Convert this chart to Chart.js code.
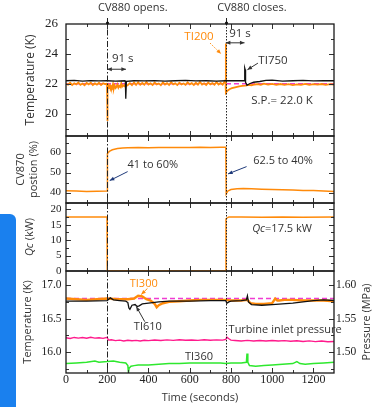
<!DOCTYPE html>
<html>
<head>
<meta charset="utf-8">
<script src="https://cdn.jsdelivr.net/npm/chart.js@4"></script>
<style>
  body { margin: 0; background: #fff; }
  #wrap { position: relative; width: 380px; height: 407px; overflow: hidden; }
  #wrap canvas { position: absolute; left: 0; top: 0; }
  #tab { position: absolute; left: 0; top: 214px; width: 16px; height: 193px; background: #1a80ee; border-top-right-radius: 6px; }
</style>
</head>
<body>
<div id="wrap">
  <div id="tab"></div>
  <canvas id="p4" width="380" height="407"></canvas>
  <canvas id="p3" width="380" height="407"></canvas>
  <canvas id="p2" width="380" height="407"></canvas>
  <canvas id="p1" width="380" height="407"></canvas>
</div>
<script>
// ---- data (time in seconds) ----
const timeTicks = [0, 200, 400, 600, 800, 1000, 1200];
const eventTimes = [200, 775];   // CV880 opens / closes

// panel 1: temperatures (K)
const p1Ticks = [20, 22, 24, 26];
const ti200Time = [0,10,20,30,40,50,60,70,80,90,100,110,120,130,140,150,160,170,180,190,
  196,199,200,201,203,206,209,213,216,220,223,228,232,236,241,245,249,254,258,263,268,272,277,283,288,294,300,
  310,320,330,340,350,360,370,380,390,400,410,420,430,440,450,460,470,480,490,500,
  510,520,530,540,550,560,570,580,590,600,610,620,630,640,650,660,670,680,690,700,
  710,720,730,740,750,760,770,
  774,775,776,778,782,788,795,805,815,825,840,855,870,885,900,915,930,945,960,980,
  1000,1020,1040,1060,1080,1100,1120,1140,1160,1180,1200,1220,1240,1260,1280,1300];
const ti200Temp = [22.00,21.94,22.06,21.92,22.03,21.95,22.08,21.93,22.01,21.90,22.05,21.96,22.07,21.92,22.02,21.94,22.06,21.91,22.03,21.97,
  22.00,21.98,19.50,21.72,21.62,21.85,21.70,21.96,21.66,21.80,21.74,21.98,21.68,21.88,21.72,21.79,21.95,21.74,21.86,21.78,22.02,21.80,21.90,21.84,21.98,21.86,21.92,
  22.04,21.90,22.08,21.92,22.10,21.93,22.05,21.93,22.12,21.95,22.03,21.92,22.08,21.96,22.02,21.90,22.09,21.95,22.04,21.92,
  22.10,21.96,22.03,21.91,22.07,21.95,22.02,21.93,22.09,21.96,22.04,21.92,22.06,21.94,22.12,21.95,22.03,21.92,22.08,21.96,
  22.04,21.93,22.10,21.95,22.05,21.94,22.16,
  22.02,24.70,21.40,21.45,21.52,21.58,21.65,21.70,21.74,21.78,21.82,21.86,21.88,21.92,21.90,21.95,21.97,21.92,22.00,21.94,
  21.99,21.93,21.98,21.92,21.97,21.91,21.96,21.93,21.99,21.92,21.97,21.94,21.98,21.92,21.97,21.95];
const ti750Time = [0,40,80,120,160,200,240,286,288,289,291,293,330,380,430,480,530,580,630,680,
  730,775,820,866,867,869,871,878,890,910,940,970,1000,1050,1100,1150,1200,1250,1300];
const ti750Temp = [22.20,22.22,22.18,22.21,22.19,22.20,22.18,22.20,22.15,21.00,21.05,22.16,22.20,22.19,22.21,22.18,22.20,22.22,22.19,22.20,
  22.18,22.20,22.20,22.20,23.05,22.95,22.10,21.90,22.00,22.10,22.15,22.22,22.24,22.18,22.20,22.22,22.19,22.21,22.20];
const setPoint1 = 22.0;

// panel 2: CV870 position (%)
const p2Ticks = [40, 50, 60];
const cv870Time = [0,50,100,150,199,200,202,210,225,250,275,300,350,400,450,500,550,600,650,700,
  750,774,775,777,785,800,830,860,900,950,1000,1050,1100,1150,1200,1250,1300];
const cv870Pos = [40.9,40.8,40.6,40.7,40.8,41.0,59.5,60.6,61.4,62.0,62.3,62.4,62.5,62.4,62.6,62.5,62.6,62.5,62.7,62.6,
  62.7,62.7,62.5,39.3,40.8,41.5,41.9,42.0,41.9,41.7,41.6,41.4,41.3,41.1,41.0,40.8,40.6];

// panel 3: Qc (kW)
const p3Ticks = [0, 5, 10, 15, 20];
const qcTime = [0,100,199,200,775,776,778,790,850,950,1050,1150,1300];
const qcPower = [17.5,17.5,17.5,0,0,16.8,17.0,17.5,17.5,17.4,17.5,17.4,17.5];

// panel 4: temperatures (K) and turbine inlet pressure (MPa)
const p4Ticks = [16.0, 16.5, 17.0];
const presTicks = [1.50, 1.55, 1.60];
const ti300Time = [0,50,100,150,200,250,300,330,350,370,390,410,430,440,450,470,500,550,600,650,
  700,775,800,850,880,895,920,960,1000,1015,1025,1035,1060,1100,1150,1200,1250,1300];
const ti300Temp = [16.80,16.79,16.78,16.79,16.80,16.79,16.79,16.80,16.84,16.83,16.79,16.77,16.72,16.67,16.70,16.73,16.75,16.76,16.77,16.78,
  16.78,16.78,16.77,16.77,16.78,16.73,16.72,16.72,16.73,16.80,16.77,16.77,16.78,16.78,16.77,16.77,16.77,16.76];
const ti610Time = [0,100,200,215,230,260,290,300,305,310,320,335,345,355,370,400,450,500,600,700,
  775,780,790,800,850,875,880,885,900,950,1000,1050,1100,1150,1200,1250,1300];
const ti610Temp = [16.76,16.76,16.77,16.81,16.78,16.77,16.76,16.74,16.66,16.64,16.70,16.71,16.68,16.69,16.72,16.73,16.75,16.76,16.76,16.77,
  16.77,16.73,16.75,16.76,16.77,16.78,16.84,16.75,16.71,16.70,16.71,16.72,16.73,16.75,16.77,16.78,16.77];
const presTime = [0,20,40,60,80,100,120,140,160,180,200,
  205,220,240,260,280,300,320,340,360,380,400,
  430,460,490,520,550,580,610,640,670,700,730,760,
  775,780,790,800,820,850,880,910,940,970,
  1000,1030,1060,1090,1120,1150,1180,1210,1240,1270,1300];
const presMPa = [1.5215,1.5205,1.5220,1.5210,1.5218,1.5208,1.5222,1.5210,1.5216,1.5206,1.5220,
  1.5180,1.5185,1.5172,1.5180,1.5168,1.5178,1.5170,1.5176,1.5166,1.5178,1.5172,
  1.5182,1.5174,1.5184,1.5176,1.5186,1.5178,1.5182,1.5176,1.5186,1.5178,1.5184,1.5180,
  1.5190,1.5225,1.5200,1.5180,1.5175,1.5168,1.5176,1.5168,1.5174,1.5166,
  1.5175,1.5166,1.5172,1.5164,1.5170,1.5160,1.5168,1.5158,1.5166,1.5156,1.5160];
const ti360Time = [0,50,100,140,160,200,230,260,290,300,303,306,315,330,350,400,450,500,550,600,
  650,700,750,775,800,850,875,878,882,890,920,960,1000,1050,1100,1120,1135,1160,1200,1250,1300];
const ti360Temp = [15.83,15.84,15.85,15.87,15.85,15.86,15.87,15.85,15.84,15.80,15.69,15.76,15.79,15.80,15.81,15.81,15.82,15.83,15.83,15.84,
  15.84,15.84,15.84,15.83,15.84,15.84,15.85,15.98,15.85,15.80,15.79,15.80,15.81,15.82,15.83,15.86,15.83,15.82,15.83,15.84,15.85];
const setPoint4 = 16.80;

// ---- styling ----
const SANS = "'Open Sans', 'Noto Sans', sans-serif";
const SERIF = "'Liberation Serif', 'DejaVu Serif', serif";
const ORANGE = '#ff8a0a';
const MAGENTA = '#f03cd2';
const INK = '#333';

const pts = (t, v) => t.map((x, i) => ({ x, y: v[i] }));

// frame, inward ticks, event lines and text notes
const deco = {
  id: 'deco',
  afterDatasetsDraw(chart, _args, o) {
    const { ctx, chartArea: a } = chart;
    const xs = chart.scales.x, ys = chart.scales.y;
    ctx.save();

    eventTimes.forEach((t, i) => {
      const px = Math.round(xs.getPixelForValue(t)) + 0.5;
      ctx.strokeStyle = '#222';
      ctx.lineWidth = 1;
      ctx.setLineDash(i === 0 ? [6, 2, 1.5, 2] : [1.5, 1.5]);
      ctx.beginPath();
      ctx.moveTo(px, a.top - (o.lead || 0));
      ctx.lineTo(px, a.bottom);
      ctx.stroke();
      if (o.lead) {
        ctx.setLineDash([]);
        ctx.beginPath();
        ctx.moveTo(px, a.top - o.lead);
        ctx.lineTo(px, a.top);
        ctx.stroke();
        ctx.fillStyle = '#111';
        ctx.beginPath();
        ctx.arc(px, a.top - 1, 1.6, 0, Math.PI * 2);
        ctx.fill();
      }
    });
    ctx.setLineDash([]);

    // inward ticks
    ctx.strokeStyle = '#333';
    ctx.lineWidth = 1;
    for (let t = 100; t < 1300; t += 100) {
      const px = Math.round(xs.getPixelForValue(t)) + 0.5;
      const len = t % 200 === 0 ? 5 : 3;
      ctx.beginPath();
      ctx.moveTo(px, a.top); ctx.lineTo(px, a.top + len);
      ctx.moveTo(px, a.bottom); ctx.lineTo(px, a.bottom - len);
      ctx.stroke();
    }
    const major = o.yTicks;
    const step = major[1] - major[0];
    for (let v = major[0] - step / 2; v <= ys.max; v += step / 2) {
      if (v <= ys.min || v >= ys.max) continue;
      const py = Math.round(ys.getPixelForValue(v)) + 0.5;
      const isMajor = major.some(m => Math.abs(m - v) < 1e-6);
      const len = isMajor ? 5 : 3;
      ctx.beginPath();
      ctx.moveTo(a.left, py); ctx.lineTo(a.left + len, py);
      ctx.moveTo(a.right, py); ctx.lineTo(a.right - len, py);
      ctx.stroke();
    }

    // frame
    ctx.lineWidth = 1.3;
    ctx.strokeStyle = '#1a1a1a';
    ctx.strokeRect(a.left, a.top, a.width, a.height);

    // arrows
    (o.arrows || []).forEach(ar => {
      const x0 = xs.getPixelForValue(ar.from[0]), y0 = ys.getPixelForValue(ar.from[1]);
      const x1 = xs.getPixelForValue(ar.to[0]), y1 = ys.getPixelForValue(ar.to[1]);
      ctx.strokeStyle = ar.color || INK;
      ctx.fillStyle = ar.color || INK;
      ctx.lineWidth = 1;
      ctx.setLineDash(ar.dash || []);
      ctx.beginPath(); ctx.moveTo(x0, y0); ctx.lineTo(x1, y1); ctx.stroke();
      ctx.setLineDash([]);
      const head = (hx, hy, ang) => {
        ctx.beginPath();
        ctx.moveTo(hx, hy);
        ctx.lineTo(hx - 5 * Math.cos(ang - 0.4), hy - 5 * Math.sin(ang - 0.4));
        ctx.lineTo(hx - 5 * Math.cos(ang + 0.4), hy - 5 * Math.sin(ang + 0.4));
        ctx.closePath();
        ctx.fill();
      };
      const ang = Math.atan2(y1 - y0, x1 - x0);
      head(x1, y1, ang);
      if (ar.both) head(x0, y0, ang + Math.PI);
    });

    // text notes
    ctx.textBaseline = 'middle';
    (o.notes || []).forEach(n => {
      const parts = n.parts || [{ text: n.text }];
      const size = n.size || 11;
      const fonts = parts.map(p => (p.italic ? 'italic ' : '') + size + 'px ' + SANS);
      let w = 0;
      parts.forEach((p, i) => { ctx.font = fonts[i]; w += ctx.measureText(p.text).width; });
      let x = xs.getPixelForValue(n.t) - w / 2;
      const y = ys.getPixelForValue(n.v);
      ctx.fillStyle = n.color || INK;
      ctx.textAlign = 'left';
      parts.forEach((p, i) => { ctx.font = fonts[i]; ctx.fillText(p.text, x, y); x += ctx.measureText(p.text).width; });
    });

    // rotated side titles
    (o.sideTitles || []).forEach(st => {
      const size = st.size || 11;
      const fonts = st.parts.map(p => (p.italic ? 'italic ' : '') + size + 'px ' + SANS);
      let w = 0;
      st.parts.forEach((p, i) => { ctx.font = fonts[i]; w += ctx.measureText(p.text).width; });
      ctx.save();
      ctx.translate(st.x, (a.top + a.bottom) / 2);
      ctx.rotate(-Math.PI / 2);
      ctx.fillStyle = INK;
      ctx.textAlign = 'left';
      let x = -w / 2;
      st.parts.forEach((p, i) => { ctx.font = fonts[i]; ctx.fillText(p.text, x, 0); x += ctx.measureText(p.text).width; });
      ctx.restore();
    });
    ctx.restore();
  }
};

function xAxis(show) {
  const axis = {
    type: 'linear', min: 0, max: 1300, display: show,
    grid: { display: false, drawTicks: false }, border: { display: false },
    afterBuildTicks: s => { s.ticks = timeTicks.map(value => ({ value })); },
    ticks: { font: { family: SERIF, size: 12, lineHeight: 1 }, color: '#222', padding: 1, maxRotation: 0, autoSkip: false, callback: v => String(v) },
    title: { display: show, text: 'Time (seconds)', font: { family: SANS, size: 11 }, color: INK, padding: { top: 0, bottom: 3 } }
  };
  if (show) axis.afterFit = s => { s.height = 34; };
  return axis;
}

function yAxis(min, max, ticks, digits, size, pad, title, position) {
  return {
    type: 'linear', position: position || 'left', min, max,
    grid: { display: false, drawTicks: false }, border: { display: false },
    afterBuildTicks: s => { s.ticks = ticks.map(value => ({ value })); },
    ticks: { font: { family: SERIF, size }, color: '#222', padding: pad, callback: v => v.toFixed(digits) },
    title: title || { display: false },
    afterFit: s => { s.width = position === 'right' ? 46 : 66; }
  };
}

function line(data, color, width, extra) {
  return Object.assign({ data, borderColor: color, borderWidth: width, pointRadius: 0, tension: 0, fill: false }, extra || {});
}

function panel(id, datasets, scales, padding, decoOpts) {
  return new Chart(document.getElementById(id), {
    type: 'line',
    data: { datasets },
    options: {
      responsive: false,
      animation: false,
      events: [],
      layout: { padding },
      plugins: { legend: { display: false }, tooltip: { enabled: false }, deco: decoOpts },
      scales
    },
    plugins: [deco]
  });
}

// panel 1
panel('p1', [
  line(pts(ti750Time, ti750Temp), '#111', 1.3),
  line(pts(ti200Time, ti200Temp), ORANGE, 1.8),
  line(pts([0, 1300], [setPoint1, setPoint1]), MAGENTA, 1.6, { borderDash: [5, 3] })
], {
  x: xAxis(false),
  y: yAxis(18.5, 26, p1Ticks, 0, 13, 8, {
    display: true, text: 'Temperature (K)', font: { family: SANS, size: 12 }, color: INK, padding: { top: 23.5, bottom: 0 }
  })
}, { top: 24, bottom: 271, left: 0, right: 46 }, {
  lead: 6,
  yTicks: p1Ticks,
  notes: [
    { t: 324, v: 27.07, text: 'CV880 opens.', size: 11 },
    { t: 902, v: 27.07, text: 'CV880 closes.', size: 11 },
    { t: 275, v: 23.67, text: '91 s', size: 11.5 },
    { t: 844, v: 25.33, text: '91 s', size: 11.5 },
    { t: 645, v: 25.15, text: 'TI200', size: 11.5, color: ORANGE },
    { t: 1004, v: 23.53, text: 'TI750', size: 11.5 },
    { t: 1048, v: 20.85, text: 'S.P.= 22.0 K', size: 11.5 }
  ],
  arrows: [
    { from: [200, 22.97], to: [291, 22.97], both: true },
    { from: [775, 24.74], to: [866, 24.74], both: true },
    { from: [699, 24.72], to: [752, 24.0], color: ORANGE, dash: [1.5, 1.5] },
    { from: [931, 23.38], to: [880, 22.94] }
  ]
});

// panel 2
panel('p2', [
  line(pts(cv870Time, cv870Pos), ORANGE, 1.5)
], {
  x: xAxis(false),
  y: yAxis(34.8, 68.3, p2Ticks, 0, 11, 5, {
    display: true, text: ['CV870', 'postion (%)'], font: { family: SANS, size: 11, lineHeight: 1.15 }, color: INK, padding: { top: 14.4, bottom: 0 }
  })
}, { top: 136, bottom: 204, left: 0, right: 46 }, {
  yTicks: p2Ticks,
  notes: [
    { t: 421, v: 53.85, text: '41 to 60%' },
    { t: 1053, v: 56, text: '62.5 to 40%' }
  ],
  arrows: [
    { from: [299, 50.5], to: [212, 46], color: '#1f3a7a' },
    { from: [876, 53], to: [786, 49.35], color: '#1f3a7a' }
  ]
});

// panel 3
panel('p3', [
  line(pts(qcTime, qcPower), ORANGE, 1.5)
], {
  x: xAxis(false),
  y: yAxis(0, 22, p3Ticks, 0, 11, 4.5)
}, { top: 203, bottom: 136, left: 0, right: 46 }, {
  yTicks: p3Ticks,
  notes: [
    { t: 1048, v: 13.6, parts: [{ text: 'Qc', italic: true }, { text: '=17.5 kW' }] }
  ],
  sideTitles: [
    { x: 30, parts: [{ text: 'Qc', italic: true }, { text: ' (kW)' }] }
  ]
});

// panel 4
panel('p4', [
  line(pts(presTime, presMPa), '#ff1a8c', 1.4, { yAxisID: 'y2' }),
  line(pts(ti360Time, ti360Temp), '#2ee82e', 1.5),
  line(pts(ti610Time, ti610Temp), '#111', 1.3),
  line(pts(ti300Time, ti300Temp), ORANGE, 2.4),
  line(pts([0, 1300], [setPoint4, setPoint4]), MAGENTA, 1.6, { borderDash: [5, 3] })
], {
  x: xAxis(true),
  y: yAxis(15.69, 17.21, p4Ticks, 1, 11.5, 4.5, {
    display: true, text: 'Temperature (K)', font: { family: SANS, size: 11 }, color: INK, padding: { top: 21.7, bottom: 0 }
  }),
  y2: yAxis(1.469, 1.621, presTicks, 2, 11.5, 2, null, 'right')
}, { top: 271, bottom: 0, left: 0, right: 0 }, {
  yTicks: p4Ticks,
  notes: [
    { t: 377, v: 17.025, text: 'TI300', color: ORANGE },
    { t: 397, v: 16.38, text: 'TI610' },
    { t: 1063, v: 16.33, text: 'Turbine inlet pressure' },
    { t: 645, v: 15.935, text: 'TI360' }
  ],
  arrows: [
    { from: [395, 16.95], to: [365, 16.86], color: ORANGE },
    { from: [382, 16.455], to: [341, 16.68] }
  ],
  sideTitles: [
    { x: 367, parts: [{ text: 'Pressure (MPa)' }] }
  ]
});
</script>
</body>
</html>
